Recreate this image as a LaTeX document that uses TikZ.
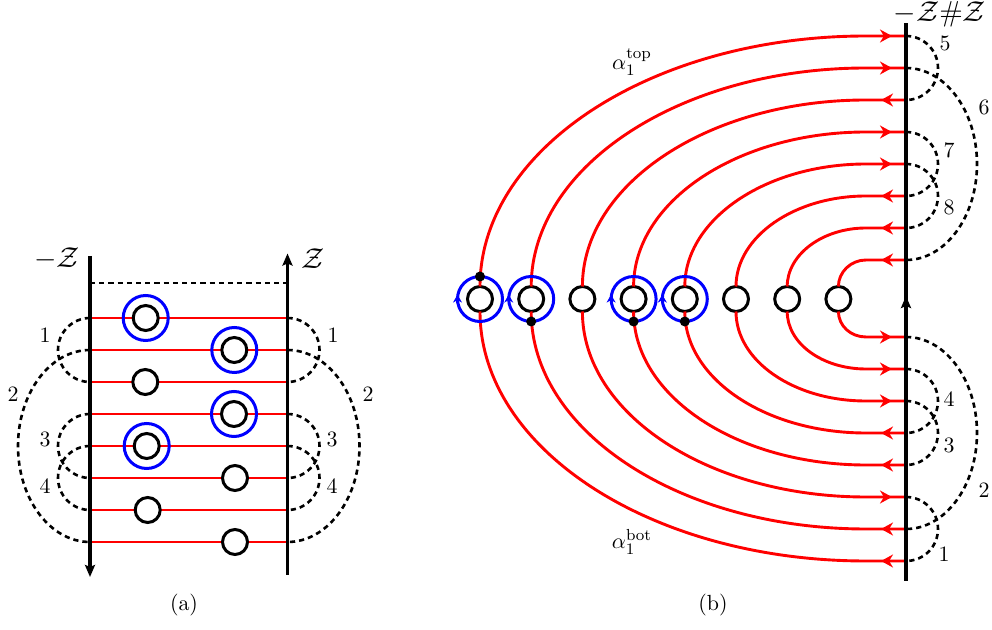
\documentclass[tikz,border=0pt]{standalone}
\usepackage{amsmath}
\usetikzlibrary{positioning}
\usetikzlibrary{calc}
\usetikzlibrary{arrows.meta}

\begin{document}
\begin{tikzpicture}[x=0.5pt, y=-0.5pt,
    every node/.style={font=\fontsize{10.95}{13}\selectfont},
    hole/.style={draw, circle, fill=white, line width=1.5pt, minimum size=12.5pt, inner sep=0pt, outer sep=0pt},
    ring/.style={draw=blue, circle, line width=1.5pt, minimum size=22.5pt, inner sep=0pt, outer sep=0pt},
    pin/.style={circle, fill=black, minimum size=5pt, inner sep=0pt, outer sep=0pt},
    redline/.style={red, line width=1.45pt},
    redtip/.style={red, line width=1.45pt, -{Stealth[length=6pt,width=6.5pt]}},
    bluetip/.style={blue, line width=1.2pt, -{Stealth[length=4pt,width=4.5pt]}},
    bar/.style={line width=1.7pt},
    bartip/.style={line width=1.7pt, -{Stealth[length=6pt,width=5pt,inset=1pt]}},
    glue/.style={line width=1.3pt, dash pattern=on 2.6pt off 2pt},
    bulge/.style={to path={let \p1=(\tikztostart), \p2=(\tikztotarget) in
        .. controls ($(\p1)+(0.5523*#1,0pt)$) and ($(\x1+#1,\y1)!0.2239!(\x1+#1,\y2)$) .. (\x1+#1,{(\y1+\y2)/2})
        .. controls ($(\x1+#1,\y1)!0.7761!(\x1+#1,\y2)$) and ($(\p2)+(0.5523*#1,0pt)$) .. (\tikztotarget)}}]
    \useasboundingbox (0,0) rectangle (992,630);

    % (a)
    \coordinate (ltop) at (90,256);
    \coordinate (lbot) at (90,577);
    \coordinate (rtop) at (287.5,253.5);
    \coordinate (rbot) at (287.5,575);
    \coordinate (ldash) at (90,283);
    \coordinate (rdash) at (287.5,283);
    \foreach \i in {1,...,8} {
        \coordinate (l\i) at (90,{318+32*(\i-1)});
        \coordinate (r\i) at (287.5,{318+32*(\i-1)});
        \draw[redline] (l\i) -- (r\i);
    }
    \draw[glue] (ldash) -- (rdash);
    \draw[glue] (l1) to[bulge=-16pt] (l3);
    \draw[glue] (l2) to[bulge=-36pt] (l8);
    \draw[glue] (l4) to[bulge=-16pt] (l6);
    \draw[glue] (l5) to[bulge=-16pt] (l7);
    \draw[glue] (r1) to[bulge=16pt] (r3);
    \draw[glue] (r2) to[bulge=36pt] (r8);
    \draw[glue] (r4) to[bulge=16pt] (r6);
    \draw[glue] (r5) to[bulge=16pt] (r7);
    \draw[bartip] (ltop) -- (lbot);
    \draw[bartip] (rbot) -- (rtop);
    \foreach \i/\x in {1/145.7, 2/234.3, 3/145.3, 4/234, 5/146.7, 6/235, 7/147.7, 8/235} {
        \node[hole] (a\i) at (\x,{318+32*(\i-1)}) {};
    }
    \node[ring] (ra1) at (a1) {};
    \node[ring] (ra2) at (a2) {};
    \node[ring] (ra4) at (a4) {};
    \node[ring] (ra5) at (a5) {};

    \node[font=\Large] (lz) at (57,259) {$-\mathcal{Z}$};
    \node[font=\Large] (rz) at (313,259) {$\mathcal{Z}$};
    \node (la1) at (45,335) {1};
    \node (la2) at (13,394) {2};
    \node (la3) at (45,439) {3};
    \node (la4) at (45,486) {4};
    \node (ra1t) at (333,335) {1};
    \node (ra2t) at (368,394) {2};
    \node (ra3t) at (332,439) {3};
    \node (ra4t) at (332,486) {4};
    \node (capa) at (184,605) {(a)};

    % (b)
    \node[hole] (c1) at (480,299) {};
    \node[hole, right = 13.1pt of c1] (c2) {};
    \node[hole, right = 13.1pt of c2] (c3) {};
    \node[hole, right = 13.1pt of c3] (c4) {};
    \node[hole, right = 13.1pt of c4] (c5) {};
    \node[hole, right = 13.1pt of c5] (c6) {};
    \node[hole, right = 13.1pt of c6] (c7) {};
    \node[hole, right = 13.1pt of c7] (c8) {};

    \coordinate (ztop) at (906,23);
    \coordinate (zmid) at (906,296);
    \coordinate (zbot) at (906,581);
    \coordinate (bend) at (866,0);
    \coordinate (fwd) at (892,0);
    \coordinate (bwd) at (881,0);

    \foreach \i in {1,...,8} {
        \coordinate (t\i) at (906,{36+32*(\i-1)});
        \coordinate (b\i) at (906,{561-32*(\i-1)});
        \pgfmathsetmacro\cy{0.5523*(250-32*(\i-1))}
        \pgfmathsetmacro\cx{0.5523*(386-51.2*(\i-1))}
        \draw[redline] (c\i.north) .. controls +(0,-\cy) and +(-\cx,0) .. (t\i -| bend) -- (t\i);
        \draw[redline] (c\i.south) .. controls +(0,\cy) and +(-\cx,0) .. (b\i -| bend) -- (b\i);
    }
    \foreach \i in {1,2,4,5} \draw[redtip] (t\i -| bend) -- (t\i -| fwd);
    \foreach \i in {3,6,7,8} \draw[redtip] (t\i) -- (t\i -| bwd);
    \foreach \i in {3,6,7,8} \draw[redtip] (b\i -| bend) -- (b\i -| fwd);
    \foreach \i in {1,2,4,5} \draw[redtip] (b\i) -- (b\i -| bwd);

    \draw[glue] (t1) to[bulge=16pt] (t3);
    \draw[glue] (t2) to[bulge=35.5pt] (t8);
    \draw[glue] (t4) to[bulge=16pt] (t6);
    \draw[glue] (t5) to[bulge=16pt] (t7);
    \draw[glue] (b8) to[bulge=35.5pt] (b2);
    \draw[glue] (b7) to[bulge=16pt] (b5);
    \draw[glue] (b6) to[bulge=16pt] (b4);
    \draw[glue] (b3) to[bulge=16pt] (b1);
    \draw[bar] (zbot) -- (ztop);
    \draw[bartip] (zbot) -- (zmid);

    \node[ring] (r1) at (c1) {};
    \node[ring] (r2) at (c2) {};
    \node[ring] (r4) at (c4) {};
    \node[ring] (r5) at (c5) {};
    \foreach \i in {1,2,4,5} \draw[bluetip] ([yshift=-2pt]r\i.west) -- ([yshift=2.2pt]r\i.west);
    \node[pin] (p1) at (r1.north) {};
    \node[pin] (p2) at (r2.south) {};
    \node[pin] (p4) at (r4.south) {};
    \node[pin] (p5) at (r5.south) {};

    \node[font=\Large, anchor=base, inner sep=0pt] (zz) at (940,22) {$-\mathcal{Z}\#\mathcal{Z}$};
    \node (atop) at (632,62) {$\alpha_1^{\mathrm{top}}$};
    \node (abot) at (632,542) {$\alpha_1^{\mathrm{bot}}$};
    \node (n5) at (945,43) {5};
    \node (n6) at (984,107) {6};
    \node (n7) at (949,150) {7};
    \node (n8) at (949,207) {8};
    \node (n4) at (949,399) {4};
    \node (n3) at (949,445) {3};
    \node (n2) at (984,490) {2};
    \node (n1) at (944,554) {1};
    \node (capb) at (713,605) {(b)};
\end{tikzpicture}
\end{document}
